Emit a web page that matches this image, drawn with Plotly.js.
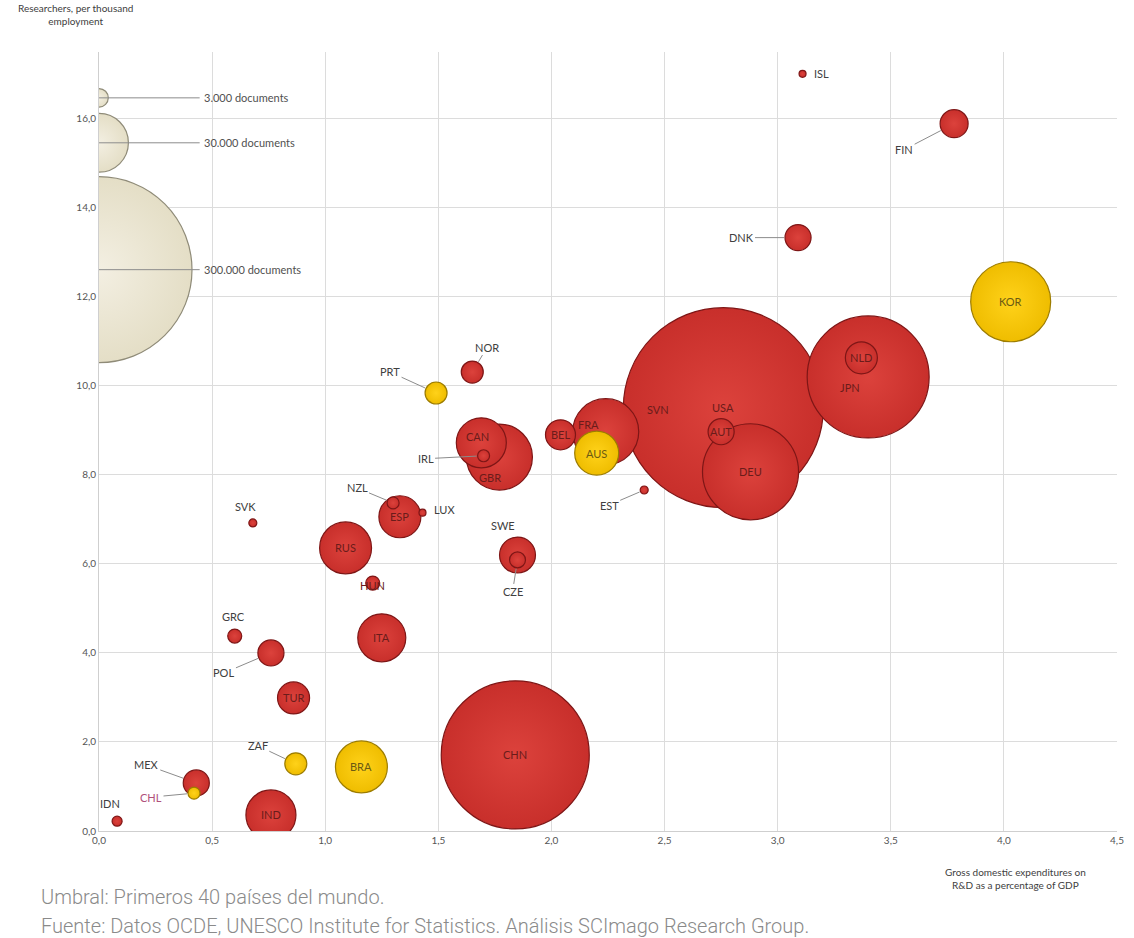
<!DOCTYPE html>
<html><head><meta charset="utf-8">
<script src="https://cdn.plot.ly/plotly-3.0.1.min.js"></script>
<style>html,body{margin:0;padding:0;background:#fff}#chart{width:1134px;height:938px}</style>
</head><body><div id="chart"></div>
<script>
// ---- DATA ----
// drawing order: larger bubbles first so small ones stay visible
const countries  = ['SVN','USA','CHN','JPN','DEU','FRA','GBR','RUS','CAN','IND','ITA','ESP','SWE','NLD','TUR','BEL','FIN','AUT','DNK','POL','MEX','NOR','CZE','HUN','GRC','IRL','NZL','IDN','SVK','EST','ISL','LUX',
                    'KOR','BRA','AUS','PRT','ZAF','CHL'];
const gerd       = [2.47, 2.76, 1.84, 3.40, 2.88, 2.24, 1.77, 1.09, 1.69, 0.76, 1.25, 1.33, 1.85, 3.37, 0.86, 2.04, 3.78, 2.75, 3.09, 0.76, 0.43, 1.65, 1.85, 1.21, 0.60, 1.70, 1.30, 0.08, 0.68, 2.41, 3.11, 1.43,
                    4.03, 1.16, 2.20, 1.49, 0.87, 0.42];
const researchers= [9.46, 9.51, 1.71, 10.20, 8.07, 8.97, 8.40, 6.36, 8.72, 0.36, 4.34, 7.06, 6.20, 10.63, 2.99, 8.90, 15.89, 8.97, 13.33, 4.00, 1.08, 10.31, 6.09, 5.57, 4.38, 8.43, 7.37, 0.22, 6.92, 7.66, 17.01, 7.15,
                    11.89, 1.44, 8.49, 9.84, 1.51, 0.85];
const documents  = [3500, 347000, 190000, 129000, 80000, 37800, 37800, 23400, 21700, 21700, 20000, 15300, 11200, 8900, 8900, 7800, 6800, 5900, 5900, 5900, 5900, 4200, 2200, 1700, 1700, 1250, 1250, 870, 555, 555, 425, 425,
                    55500, 23400, 16800, 4200, 4200, 1250];
const highlighted= ['KOR','BRA','AUS','PRT','ZAF','CHL'];   // yellow bubbles

const legendDocs   = [300000, 30000, 3000];
const legendY      = [12.61, 15.46, 16.47];
const legendLabels = ['300.000 documents', '30.000 documents', '3.000 documents'];

const xTicks = [0, 0.5, 1, 1.5, 2, 2.5, 3, 3.5, 4, 4.5];
const yTicks = [0, 2, 4, 6, 8, 10, 12, 14, 16];

const yTitle = 'Researchers, per thousand<br>employment';
const xTitle = 'Gross domestic expenditures on<br>R&amp;D as a percentage of GDP';
const note1 = 'Umbral: Primeros 40 países del mundo.';
const note2 = 'Fuente: Datos OCDE, UNESCO Institute for Statistics. Análisis SCImago Research Group.';

// ---- label placement (styling) ----
const outside = {
  ISL:{dx:19,dy:0,line:false}, FIN:{dx:-50,dy:26,line:true}, DNK:{dx:-57,dy:0,line:true},
  NOR:{dx:15,dy:-25,line:true}, PRT:{dx:-46,dy:-21,line:true}, IRL:{dx:-58,dy:3,line:true},
  NZL:{dx:-36,dy:-15,line:true}, LUX:{dx:22,dy:-3,line:false}, EST:{dx:-35,dy:15,line:true},
  SVK:{dx:-7,dy:-16,line:false}, SWE:{dx:-15,dy:-30,line:false}, CZE:{dx:-5,dy:32,line:true},
  GRC:{dx:-1,dy:-20,line:false}, POL:{dx:-47,dy:20,line:true}, ZAF:{dx:-38,dy:-18,line:true},
  MEX:{dx:-50,dy:-18,line:true}, CHL:{dx:-43,dy:4,line:true,color:'#b0507a'}, IDN:{dx:-7,dy:-18,line:false}
};
const insideShift = { JPN:[-18,11], FRA:[-17,-7], CAN:[-4,-6], GBR:[-9,20], HUN:[0,2] };

// ---- size scale: radius(px) = K * sqrt(documents) ----
const K = 0.1698;
const sizeref = 1 / (2 * K * K);
const radius = d => K * Math.sqrt(d);

const FONT = 'Lato, "Open Sans", sans-serif';

function pick(cond) {
  const idx = countries.map((c, i) => i).filter(i => cond(countries[i]));
  return {
    x: idx.map(i => gerd[i]), y: idx.map(i => researchers[i]),
    s: idx.map(i => documents[i]), t: idx.map(i => countries[i])
  };
}
const red = pick(c => !highlighted.includes(c));
const yel = pick(c => highlighted.includes(c));

function bubbleTrace(d, fill, center, rim) {
  return {
    type: 'scatter', mode: 'markers', x: d.x, y: d.y, text: d.t, hoverinfo: 'text',
    cliponaxis: true,
    marker: {
      size: d.s, sizemode: 'area', sizeref: sizeref, opacity: 1,
      color: fill, gradient: {type: 'radial', color: center},
      line: {color: rim, width: 1.2}
    },
    showlegend: false
  };
}

const traces = [
  bubbleTrace({x: legendDocs.map(() => 0), y: legendY, s: legendDocs, t: legendLabels}, '#e4dec6', '#f3efe2', '#8f8b78'),
  bubbleTrace(red, '#c82f2b', '#dc423c', '#7e1616'),
  bubbleTrace(yel, '#efbd00', '#ffd21a', '#9c7c00')
];

const shapes = legendY.map(y => ({
  type: 'line', xref: 'x', yref: 'y', x0: 0, x1: 0.445, y0: y, y1: y,
  line: {color: '#8c8c8c', width: 1}, layer: 'above'
}));

const annotations = [];
legendY.forEach((y, i) => annotations.push({
  x: 0.455, y: y, xref: 'x', yref: 'y', text: legendLabels[i], showarrow: false,
  xanchor: 'left', yanchor: 'middle', font: {family: FONT, size: 11, color: '#505050'}
}));

countries.forEach((c, i) => {
  const r = radius(documents[i]);
  if (outside[c]) {
    const o = outside[c];
    const a = {
      x: gerd[i], y: researchers[i], xref: 'x', yref: 'y', text: c,
      font: {family: FONT, size: 11, color: o.color || '#404040'}
    };
    if (o.line) {
      Object.assign(a, {showarrow: true, arrowhead: 0, arrowwidth: 1, arrowcolor: '#8c8c8c',
        ax: o.dx, ay: o.dy, standoff: r + 1});
    } else {
      Object.assign(a, {showarrow: false, xshift: o.dx, yshift: -o.dy});
    }
    annotations.push(a);
  } else {
    const sh = insideShift[c] || [0, 0];
    const isY = highlighted.includes(c);
    annotations.push({
      x: gerd[i], y: researchers[i], xref: 'x', yref: 'y', text: c, showarrow: false,
      xshift: sh[0], yshift: -sh[1],
      font: {family: FONT, size: 11, color: isY ? '#6b5a12' : '#6a1c1a'}
    });
  }
});

annotations.push(
  {xref: 'paper', yref: 'paper', x: -0.0226, y: 1.0475, text: yTitle, showarrow: false,
   xanchor: 'center', yanchor: 'middle', font: {family: FONT, size: 10, color: '#404040'}},
  {xref: 'paper', yref: 'paper', x: 0.900, y: -0.0616, text: xTitle, showarrow: false,
   xanchor: 'center', yanchor: 'middle', font: {family: FONT, size: 10, color: '#404040'}},
  {xref: 'paper', yref: 'paper', x: -0.0589, y: -0.0847, text: note1, showarrow: false,
   xanchor: 'left', yanchor: 'middle', font: {family: 'Roboto, sans-serif', size: 20, color: '#8a8a8a', weight: 300}},
  {xref: 'paper', yref: 'paper', x: -0.0589, y: -0.1220, text: note2, showarrow: false,
   xanchor: 'left', yanchor: 'middle', font: {family: 'Roboto, sans-serif', size: 20, color: '#8a8a8a', weight: 300}}
);

const axisCommon = {
  showgrid: true, gridcolor: '#dcdcdc', gridwidth: 1, zeroline: false,
  showline: true, linecolor: '#cfcfcf', linewidth: 1, ticks: '',
  tickformat: '.1f', tickfont: {family: FONT, size: 10, color: '#555'}, fixedrange: true
};

const layout = {
  width: 1134, height: 938,
  margin: {l: 99, r: 17, t: 52, b: 107},
  paper_bgcolor: '#ffffff', plot_bgcolor: '#ffffff',
  separators: ',.',
  showlegend: false,
  xaxis: Object.assign({}, axisCommon, {range: [0, 4.5], tickvals: xTicks}),
  yaxis: Object.assign({}, axisCommon, {range: [0, 17.5], tickvals: yTicks}),
  shapes: shapes,
  annotations: annotations,
  font: {family: FONT}
};

Plotly.newPlot('chart', traces, layout, {displayModeBar: false, staticPlot: true});
</script></body></html>
